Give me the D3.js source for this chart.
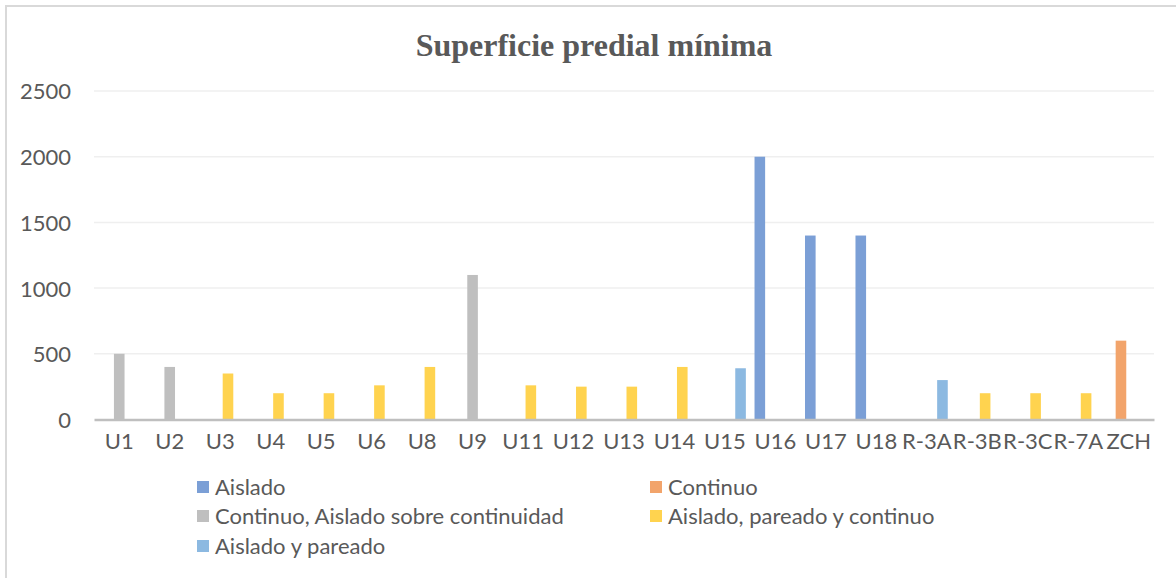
<!DOCTYPE html>
<html>
<head>
<meta charset="utf-8">
<script src="https://cdn.jsdelivr.net/npm/d3@7"></script>
<style>
  body { margin: 0; background: #fff; }
  svg { display: block; }
</style>
</head>
<body>
<svg id="chart" width="1176" height="578"></svg>
<script>
// categories along the x axis
const categories = ["U1", "U2", "U3", "U4", "U5", "U6", "U8", "U9", "U11", "U12", "U13",
  "U14", "U15", "U16", "U17", "U18", "R-3A", "R-3B", "R-3C", "R-7A", "ZCH"];

// one array per series, 0 where the series has no bar
const aislado           = [0, 0, 0, 0, 0, 0, 0, 0, 0, 0, 0, 0, 0, 2000, 1400, 1400, 0, 0, 0, 0, 0];
const continuo          = [0, 0, 0, 0, 0, 0, 0, 0, 0, 0, 0, 0, 0, 0, 0, 0, 0, 0, 0, 0, 600];
const continuoAislado   = [500, 400, 0, 0, 0, 0, 0, 1100, 0, 0, 0, 0, 0, 0, 0, 0, 0, 0, 0, 0, 0];
const aisladoPareadoCont= [0, 0, 350, 200, 200, 260, 400, 0, 260, 250, 250, 400, 0, 0, 0, 0, 0, 200, 200, 200, 0];
const aisladoPareado    = [0, 0, 0, 0, 0, 0, 0, 0, 0, 0, 0, 0, 390, 0, 0, 0, 300, 0, 0, 0, 0];

const seriesNames = ["Aislado", "Continuo", "Continuo, Aislado sobre continuidad",
  "Aislado, pareado y continuo", "Aislado y pareado"];
const seriesValues = [aislado, continuo, continuoAislado, aisladoPareadoCont, aisladoPareado];
const colors = ["#7b9fd6", "#f2a46b", "#bfbfbf", "#ffd34f", "#8cb9e1"];

const yTicks = [0, 500, 1000, 1500, 2000, 2500];

const svg = d3.select("#chart");
const font = "Lato, 'Open Sans', sans-serif";
const fontSize = 22;
const textColor = "#595959";

// chart border (only top and left show inside the picture)
svg.append("rect")
  .attr("x", 6).attr("y", 6)
  .attr("width", 1200).attr("height", 600)
  .attr("fill", "none")
  .attr("stroke", "#d9d9d9")
  .attr("stroke-width", 2);

const plot = { left: 94, right: 1154, top: 91, bottom: 419.5 };

const x = d3.scaleBand()
  .domain(categories)
  .range([plot.left, plot.right])
  .paddingInner(0).paddingOuter(0);

// series centres inside each category (bars overlap a little, like the original)
const xs = d3.scalePoint()
  .domain(seriesNames)
  .range([-15.6, 15.6]);
const barW = 10.6;

const y = d3.scaleLinear()
  .domain([0, 2500])
  .range([plot.bottom, plot.top]);

// gridlines
svg.append("g")
  .selectAll("line")
  .data(yTicks.slice(1))
  .join("line")
  .attr("x1", plot.left).attr("x2", plot.right)
  .attr("y1", d => y(d)).attr("y2", d => y(d))
  .attr("stroke", "#efefef")
  .attr("stroke-width", 1.5);

// y axis labels
const yAxis = svg.append("g")
  .attr("transform", `translate(${plot.left - 23},0)`)
  .call(d3.axisLeft(y).tickValues(yTicks).tickFormat(d3.format("d")).tickSize(0).tickPadding(0));
yAxis.select(".domain").remove();
yAxis.selectAll("text")
  .attr("font-family", font)
  .attr("font-size", fontSize)
  .attr("fill", textColor)
  .attr("dy", "0.36em");

// bars
seriesNames.forEach((name, i) => {
  svg.append("g")
    .selectAll("rect")
    .data(categories.map((c, j) => ({ c, v: seriesValues[i][j] })).filter(d => d.v > 0))
    .join("rect")
    .attr("x", d => x(d.c) + x.bandwidth() / 2 + xs(name) - barW / 2)
    .attr("y", d => y(d.v))
    .attr("width", barW)
    .attr("height", d => y(0) - y(d.v))
    .attr("fill", colors[i]);
});

// x axis
const xAxis = svg.append("g")
  .attr("transform", `translate(0,${plot.bottom})`)
  .call(d3.axisBottom(x).tickSize(0).tickPadding(0));
xAxis.select(".domain")
  .attr("stroke", "#bfbfbf")
  .attr("stroke-width", 2.5);
xAxis.selectAll("text")
  .attr("font-family", font)
  .attr("font-size", fontSize)
  .attr("fill", textColor)
  .attr("y", 29)
  .attr("dy", 0);

// title
svg.append("text")
  .attr("x", 594)
  .attr("y", 56)
  .attr("text-anchor", "middle")
  .attr("font-family", "'Liberation Serif', 'Times New Roman', serif")
  .attr("font-weight", "bold")
  .attr("font-size", 32)
  .attr("fill", textColor)
  .text("Superficie predial mínima");

// legend, two columns
const legendPos = [
  { x: 197, y: 487 }, { x: 650, y: 487 },
  { x: 197, y: 516 }, { x: 650, y: 516 },
  { x: 197, y: 546 }
];
const legend = svg.append("g")
  .selectAll("g")
  .data(seriesNames)
  .join("g")
  .attr("transform", (d, i) => `translate(${legendPos[i].x},${legendPos[i].y})`);
legend.append("rect")
  .attr("x", 0).attr("y", -6)
  .attr("width", 12).attr("height", 12)
  .attr("fill", (d, i) => colors[i]);
legend.append("text")
  .attr("x", 18)
  .attr("dy", "0.36em")
  .attr("font-family", font)
  .attr("font-size", fontSize)
  .attr("fill", textColor)
  .text(d => d);
</script>
</body>
</html>
